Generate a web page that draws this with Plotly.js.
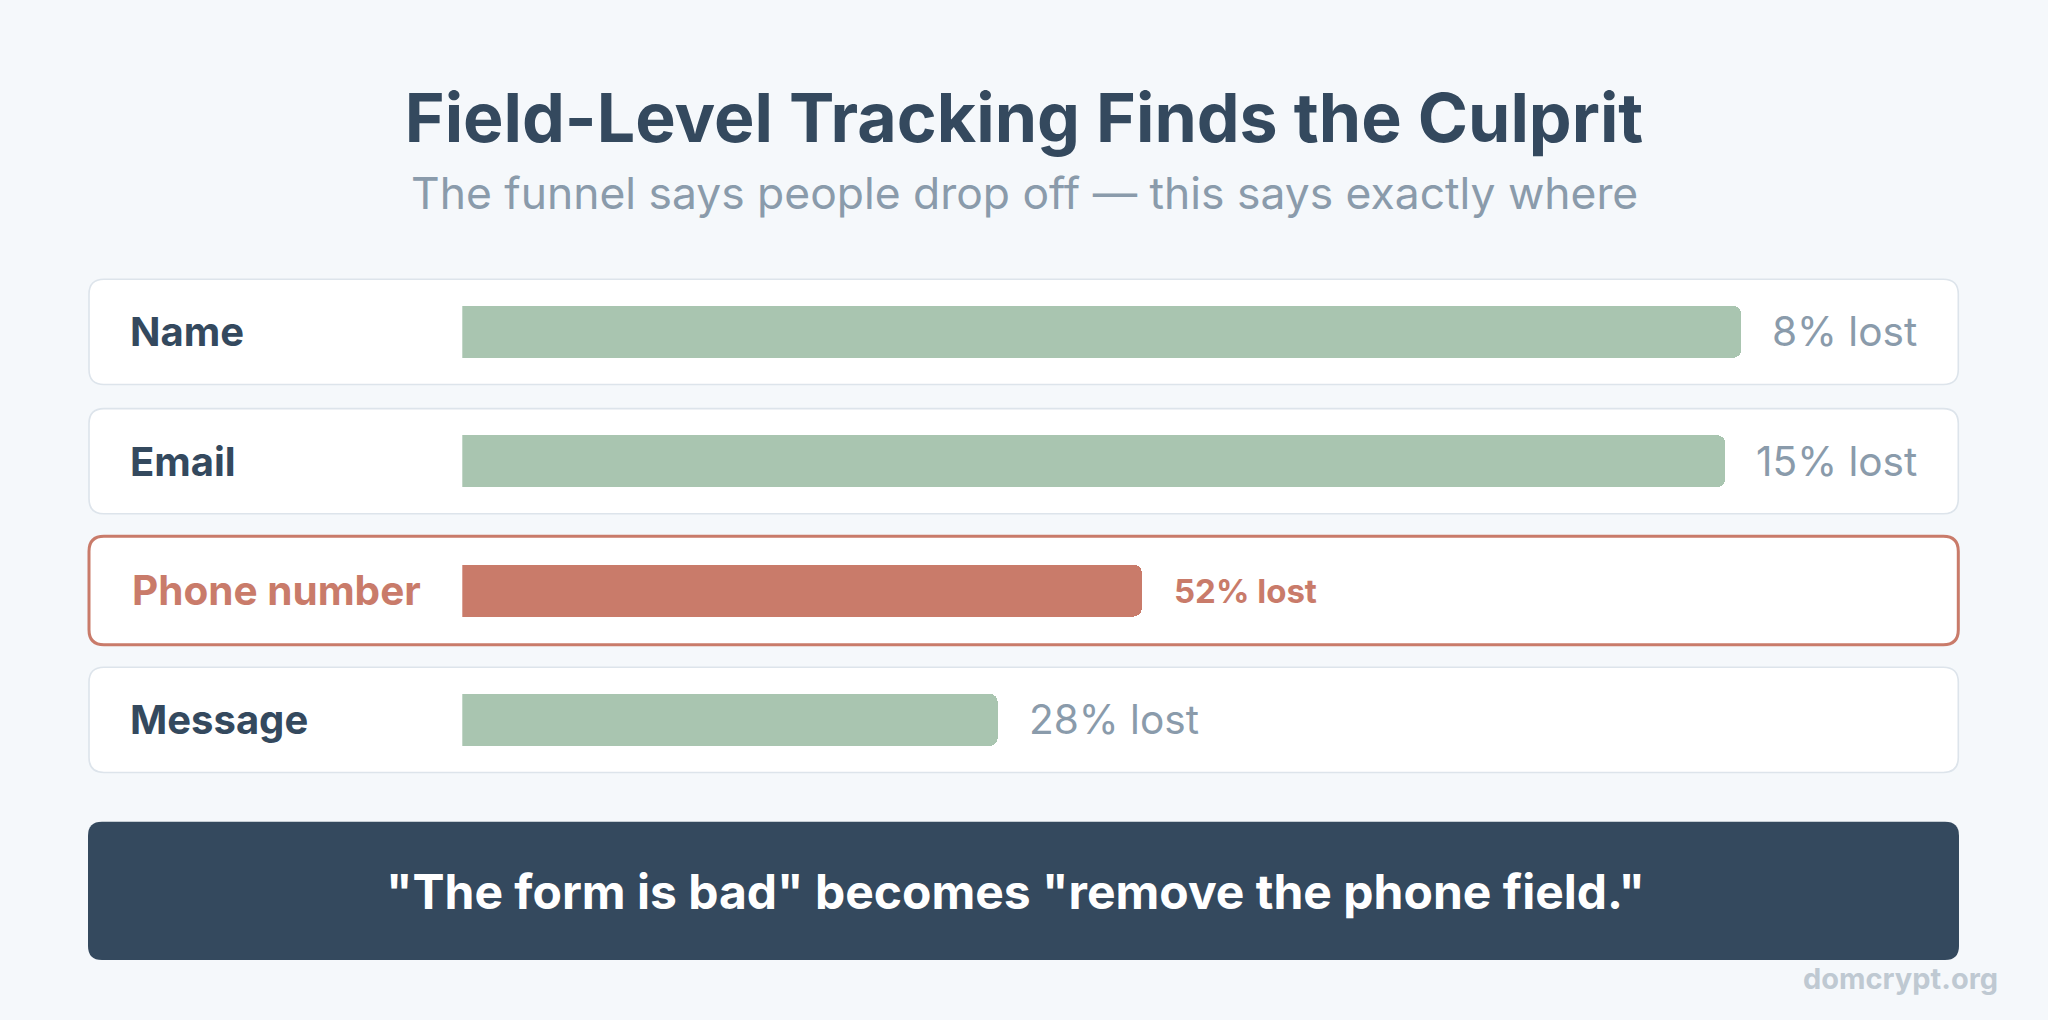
<!DOCTYPE html>
<html>
<head>
<meta charset="utf-8">
<script src="https://cdn.plot.ly/plotly-3.0.1.min.js"></script>
<style>
  html, body { margin: 0; padding: 0; background: #f5f8fb; }
  #chart { width: 2048px; height: 1020px; }
</style>
</head>
<body>
<div id="chart"></div>
<script>
// ---- Data ----
const fields = ["Name", "Email", "Phone number", "Message"];
const lostPct = [8, 15, 52, 28];
// bar length as drawn, on a 0-100 track scale
const barLength = [87.9, 86.8, 46.7, 36.8];
const highlightField = "Phone number";

const titleText = "Field-Level Tracking Finds the Culprit";
const subtitleText = "The funnel says people drop off \u2014 this says exactly where";
const footerText = "\"The form is bad\" becomes \"remove the phone field.\"";
const sourceText = "domcrypt.org";

// ---- Layout geometry (pixels) ----
const W = 2048, H = 1020;
const FONT = "Inter, 'Noto Sans', sans-serif";
const DARK = "#34495e", GREY = "#8a9bab", GREEN = "#a9c5b0", RED = "#c97b6a";
const trackX0 = 462.3, trackX1 = 1917.3;
const rowTop = 267.2, pitch = 129.33;
const rowsBottom = rowTop + pitch * fields.length;
const boxX0 = 89, boxX1 = 1958.3;

const X = p => (p / W).toFixed(5);
const Y = p => (1 - p / H).toFixed(5);
function rr(x0, y0, x1, y1, r) {
  return `M ${X(x0 + r)},${Y(y0)} L ${X(x1 - r)},${Y(y0)} Q ${X(x1)},${Y(y0)} ${X(x1)},${Y(y0 + r)} ` +
         `L ${X(x1)},${Y(y1 - r)} Q ${X(x1)},${Y(y1)} ${X(x1 - r)},${Y(y1)} ` +
         `L ${X(x0 + r)},${Y(y1)} Q ${X(x0)},${Y(y1)} ${X(x0)},${Y(y1 - r)} ` +
         `L ${X(x0)},${Y(y0 + r)} Q ${X(x0)},${Y(y0)} ${X(x0 + r)},${Y(y0)} Z`;
}

const shapes = [];
fields.forEach((f, i) => {
  const cy = rowTop + pitch * (i + 0.5);
  const hi = f === highlightField;
  const half = hi ? 54.3 : 52.6;
  shapes.push({
    type: "path", xref: "paper", yref: "paper", layer: "below",
    path: rr(boxX0, cy - half, boxX1, cy + half, 15),
    fillcolor: "#ffffff",
    line: { color: hi ? RED : "#dde4eb", width: hi ? 3 : 1.6 }
  });
});
// footer box
shapes.push({
  type: "path", xref: "paper", yref: "paper", layer: "below",
  path: rr(88, 821.7, 1959, 960, 14),
  fillcolor: DARK, line: { width: 0 }
});

const annotations = [];
fields.forEach((f, i) => {
  const hi = f === highlightField;
  annotations.push({
    xref: "paper", yref: "y", x: (hi ? 129.8 : 128.4) / W, y: f, xanchor: "left", yanchor: "middle",
    text: f, showarrow: false,
    font: { family: FONT, size: hi ? 40.5 : 40, color: hi ? RED : DARK, weight: 700 }
  });
  annotations.push({
    xref: "x", yref: "y", x: barLength[i], y: f, xanchor: "left", yanchor: "middle",
    xshift: hi ? 30 : 29,
    text: lostPct[i] + "% lost", showarrow: false,
    font: { family: FONT, size: hi ? 33 : 40.6, color: hi ? RED : GREY, weight: hi ? 700 : 400 }
  });
});
annotations.push({
  xref: "paper", yref: "paper", x: 0.5, y: Y(193), xanchor: "center", yanchor: "middle",
  text: subtitleText, showarrow: false,
  font: { family: FONT, size: 44.4, color: GREY, weight: 400 }
});
annotations.push({
  xref: "paper", yref: "paper", x: X(1016), y: Y(891), xanchor: "center", yanchor: "middle",
  text: footerText, showarrow: false,
  font: { family: FONT, size: 48, color: "#ffffff", weight: 700 }
});
annotations.push({
  xref: "paper", yref: "paper", x: X(2000), y: Y(979), xanchor: "right", yanchor: "middle",
  text: sourceText, showarrow: false,
  font: { family: FONT, size: 29, color: "#bfc9d2", weight: 700 }
});

const trace = {
  type: "bar", orientation: "h",
  y: fields, x: barLength,
  width: 52 / pitch,
  marker: {
    color: fields.map(f => f === highlightField ? RED : GREEN),
    cornerradius: 8,
    line: { width: 0 }
  },
  hoverinfo: "skip"
};

const layout = {
  width: W, height: H,
  margin: { l: 0, r: 0, t: 0, b: 0, pad: 0 },
  paper_bgcolor: "#f5f8fb",
  plot_bgcolor: "rgba(0,0,0,0)",
  showlegend: false,
  title: {
    text: titleText, x: 0.5, xanchor: "center", xref: "paper",
    y: Number(Y(118)), yref: "paper", yanchor: "middle",
    font: { family: FONT, size: 68, color: DARK, weight: 700 }
  },
  xaxis: {
    domain: [trackX0 / W, trackX1 / W], range: [0, 100],
    showgrid: false, zeroline: false, showticklabels: false, showline: false, fixedrange: true
  },
  yaxis: {
    domain: [1 - rowsBottom / H, 1 - rowTop / H],
    type: "category", categoryorder: "array", categoryarray: fields,
    range: [fields.length - 0.5, -0.5],
    showgrid: false, zeroline: false, showticklabels: false, showline: false, fixedrange: true
  },
  bargap: 0,
  shapes: shapes,
  annotations: annotations
};

Plotly.newPlot("chart", [trace], layout, { displayModeBar: false, staticPlot: true });
</script>
</body>
</html>
